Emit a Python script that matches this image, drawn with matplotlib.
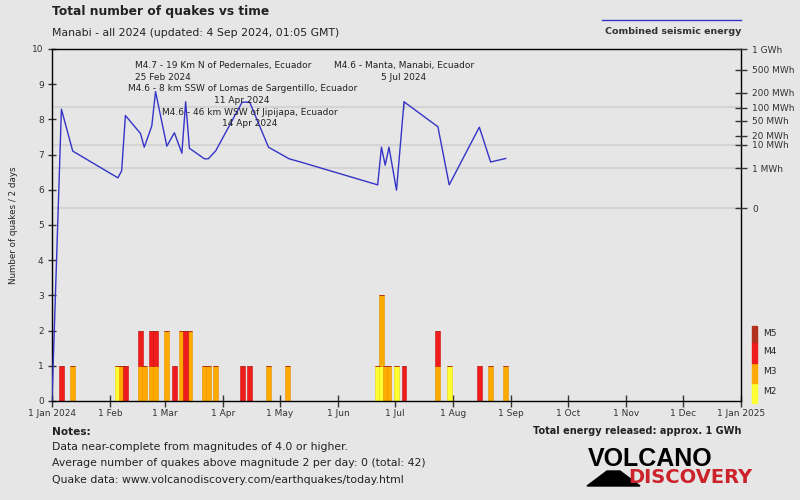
"""Total number of quakes vs time - Manabi 2024 (bars per 2 days + combined seismic energy)."""

import matplotlib

matplotlib.use("Agg")

import matplotlib.pyplot as plt
import pandas as pd
from matplotlib.lines import Line2D
from matplotlib.patches import Polygon, Rectangle


# quake counts per 2-day bin (bin start dates)
bin_dates = [
    "2024-01-05", "2024-01-11", "2024-02-04", "2024-02-06", "2024-02-08", "2024-02-16",
    "2024-02-18", "2024-02-22", "2024-02-24", "2024-03-01", "2024-03-05", "2024-03-09",
    "2024-03-11", "2024-03-13", "2024-03-21", "2024-03-23", "2024-03-27", "2024-04-10",
    "2024-04-14", "2024-04-24", "2024-05-04", "2024-06-21", "2024-06-23", "2024-06-25",
    "2024-06-27", "2024-07-01", "2024-07-05", "2024-07-23", "2024-07-29", "2024-08-14",
    "2024-08-20", "2024-08-28",
]
m2_counts = [0, 0, 1, 0, 0, 0, 0, 0, 0, 0, 0, 0, 0, 0, 0, 0, 0, 0, 0, 0, 0, 1, 1, 0, 0, 1, 0, 0, 1, 0, 0, 0]
m3_counts = [0, 1, 0, 1, 0, 1, 1, 1, 1, 2, 0, 2, 0, 2, 1, 1, 1, 0, 0, 1, 1, 0, 2, 1, 1, 0, 0, 1, 0, 0, 1, 1]
m4_counts = [1, 0, 0, 0, 1, 1, 0, 1, 1, 0, 1, 0, 2, 0, 0, 0, 0, 1, 1, 0, 0, 0, 0, 0, 0, 0, 1, 1, 0, 1, 0, 0]
m5_counts = [0] * len(bin_dates)

# combined seismic energy curve (in left-axis units)
energy_dates = [
    "2024-01-01", "2024-01-06", "2024-01-12", "2024-02-05", "2024-02-07", "2024-02-09",
    "2024-02-17", "2024-02-19", "2024-02-23", "2024-02-25", "2024-03-02", "2024-03-06",
    "2024-03-10", "2024-03-12", "2024-03-14", "2024-03-22", "2024-03-24", "2024-03-28",
    "2024-04-11", "2024-04-15", "2024-04-25", "2024-05-06", "2024-05-12", "2024-06-22",
    "2024-06-24", "2024-06-26", "2024-06-28", "2024-07-02", "2024-07-06", "2024-07-24",
    "2024-07-30", "2024-08-15", "2024-08-21", "2024-08-29",
]
energy_level = [
    0.0, 8.29, 7.10, 6.34, 6.54, 8.11, 7.60, 7.21, 7.81, 8.79, 7.24, 7.62,
    7.04, 8.50, 7.18, 6.88, 6.88, 7.11, 8.49, 8.49, 7.21, 6.88, 6.79, 6.14,
    7.21, 6.70, 7.21, 5.99, 8.50, 7.79, 6.14, 7.78, 6.79, 6.89,
]

# energy axis ticks (MWh)
energy_ticks = [0, 1, 10, 20, 50, 100, 200, 500, 1000]
energy_labels = ["0", "1 MWh", "10 MWh", "20 MWh", "50 MWh", "100 MWh", "200 MWh", "500 MWh", "1 GWh"]
energy_grid = [0, 1, 10, 100]

# largest quakes
event_dates = ["2024-02-25", "2024-04-11", "2024-04-15", "2024-07-06"]
event_titles = [
    "M4.7 - 19 Km N of Pedernales, Ecuador",
    "M4.6 - 8 km SSW of Lomas de Sargentillo, Ecuador",
    "M4.6 - 46 km WSW of Jipijapa, Ecuador",
    "M4.6 - Manta, Manabi, Ecuador",
]
event_labels = ["25 Feb 2024", "11 Apr 2024", "14 Apr 2024", "5 Jul 2024"]

month_ticks = pd.date_range("2024-01-01", "2025-01-01", freq="MS")
month_labels = ["1 Jan 2024", "1 Feb", "1 Mar", "1 Apr", "1 May", "1 Jun", "1 Jul",
                "1 Aug", "1 Sep", "1 Oct", "1 Nov", "1 Dec", "1 Jan 2025"]

mag_names = ["M2", "M3", "M4", "M5"]
mag_colors = ["#ffff33", "#ffaa00", "#ee1c1c", "#b3301e"]
mag_edges = ["#e6d800", "#e69400", "#d01010", "#902010"]

BG = "#e6e6e6"
TEXT = "#222222"
W, H = 800, 500


def energy_pos(e):
    return 5.48 + 1.14 * e ** 0.2


def fx(px):
    return px / W


def fy(py):
    return 1 - py / H


fig = plt.figure(figsize=(8, 5), dpi=100, facecolor=BG)
ax = fig.add_axes([fx(52), fy(401), fx(741) - fx(52), fy(49) - fy(401)])
ax.set_facecolor(BG)

start = pd.Timestamp("2024-01-01")
end = pd.Timestamp("2025-01-01")
ax.set_xlim(start, end)
ax.set_ylim(0, 10)

# grid lines at energy decades
for e in energy_grid:
    ax.axhline(energy_pos(e), color="#d4d4d4", lw=1.6, zorder=1)

# stacked bars
centers = pd.to_datetime(bin_dates) + pd.Timedelta(days=1)
bottom = [0] * len(bin_dates)
for counts, color, edge in zip([m2_counts, m3_counts, m4_counts, m5_counts], mag_colors, mag_edges):
    ax.bar(centers, counts, width=2.6, bottom=bottom, color=color, edgecolor=edge,
           linewidth=0.4, zorder=2)
    bottom = [b + c for b, c in zip(bottom, counts)]

# energy line
ax.plot(pd.to_datetime(energy_dates), energy_level, color="#3434c8", lw=1, zorder=3)

# event labels
label_rows = [(9.545, 9.18), (8.89, 8.55), (8.21, 7.87), (9.545, 9.18)]
for i, (d, title, lab) in enumerate(zip(event_dates, event_titles, event_labels)):
    x = pd.Timestamp(d)
    y1, y2 = label_rows[i]
    if i == 0:
        xt = x - pd.Timedelta(days=11)
        ha = "left"
    else:
        xt = x
        ha = "center"
    ax.text(xt, y1, title, ha=ha, va="center", fontsize=6.5, color=TEXT, zorder=4)
    ax.text(xt, y2, lab, ha=ha, va="center", fontsize=6.5, color=TEXT, zorder=4)
    if i == 3:
        ax.plot([x, x], [8.55 - 0.25, energy_level[energy_dates.index(d)]],
                color="#aaaaaa", lw=1.2, zorder=2)

# axes styling
for s in ax.spines.values():
    s.set_color("black")
    s.set_linewidth(1)

ax.set_yticks(range(0, 11))
ax.tick_params(axis="y", direction="inout", length=6, width=1, labelsize=6.5,
               colors="#333333", pad=3)
ax.set_xticks(month_ticks)
ax.set_xticklabels(month_labels)
ax.tick_params(axis="x", direction="inout", length=8, width=1, labelsize=6.5,
               colors="#333333", pad=2)
ax.set_ylabel("Number of quakes / 2 days", fontsize=6.3, color=TEXT, labelpad=10)

ax2 = ax.twinx()
ax2.set_ylim(0, 10)
ax2.set_yticks([energy_pos(e) for e in energy_ticks])
ax2.set_yticklabels(energy_labels)
ax2.tick_params(axis="y", direction="inout", length=8, width=1, labelsize=6.5,
                colors="#333333", pad=4)
for s in ax2.spines.values():
    s.set_visible(False)

# titles
fig.text(fx(52), fy(12), "Total number of quakes vs time", fontsize=8.8, fontweight="bold",
         color=TEXT, ha="left", va="center")
fig.text(fx(52), fy(33), "Manabi - all 2024 (updated: 4 Sep 2024, 01:05 GMT)", fontsize=7.8,
         color=TEXT, ha="left", va="center")

# energy legend
fig.add_artist(Line2D([fx(602), fx(741)], [fy(20), fy(20)], color="#3434c8", lw=1,
                      transform=fig.transFigure))
fig.text(fx(741), fy(32), "Combined seismic energy", fontsize=6.8, fontweight="bold",
         color="#333333", ha="right", va="center")

# magnitude colour key
key_tops = [383, 363, 342, 326]
key_bottoms = [403, 383, 363, 342]
key_label_y = [391, 371, 351, 333]
for name, color, top, bot, ly in zip(mag_names, mag_colors, key_tops, key_bottoms, key_label_y):
    fig.add_artist(Rectangle((fx(752), fy(bot)), fx(5), fy(top) - fy(bot), color=color,
                             transform=fig.transFigure))
    fig.text(fx(763), fy(ly), name, fontsize=6.5, color=TEXT, ha="left", va="center")

# notes
fig.text(fx(52), fy(432), "Notes:", fontsize=7.6, fontweight="bold", color=TEXT, va="center")
notes = [
    "Data near-complete from magnitudes of 4.0 or higher.",
    "Average number of quakes above magnitude 2 per day: 0 (total: 42)",
    "Quake data: www.volcanodiscovery.com/earthquakes/today.html",
]
for line, y in zip(notes, [447, 463, 480]):
    fig.text(fx(52), fy(y), line, fontsize=7.8, color=TEXT, va="center")
fig.text(fx(741), fy(431), "Total energy released: approx. 1 GWh", fontsize=7.0,
         fontweight="bold", color=TEXT, ha="right", va="center")

# logo
fig.text(fx(588), fy(458.5), "VOLCANO", fontsize=18, fontweight="bold", color="black",
         ha="left", va="center", family=["Liberation Sans", "DejaVu Sans"])
fig.text(fx(752), fy(477.5), "DISCOVERY", fontsize=14, fontweight="bold", color="#cc2229",
         ha="right", va="center", family=["Liberation Sans Narrow", "DejaVu Sans"])
fig.add_artist(Polygon([(fx(587), fy(486)), (fx(607), fy(471)), (fx(620), fy(471)),
                        (fx(640), fy(486))], closed=True, color="black",
                       transform=fig.transFigure))

fig.savefig("out.png", dpi=100, facecolor=BG)
